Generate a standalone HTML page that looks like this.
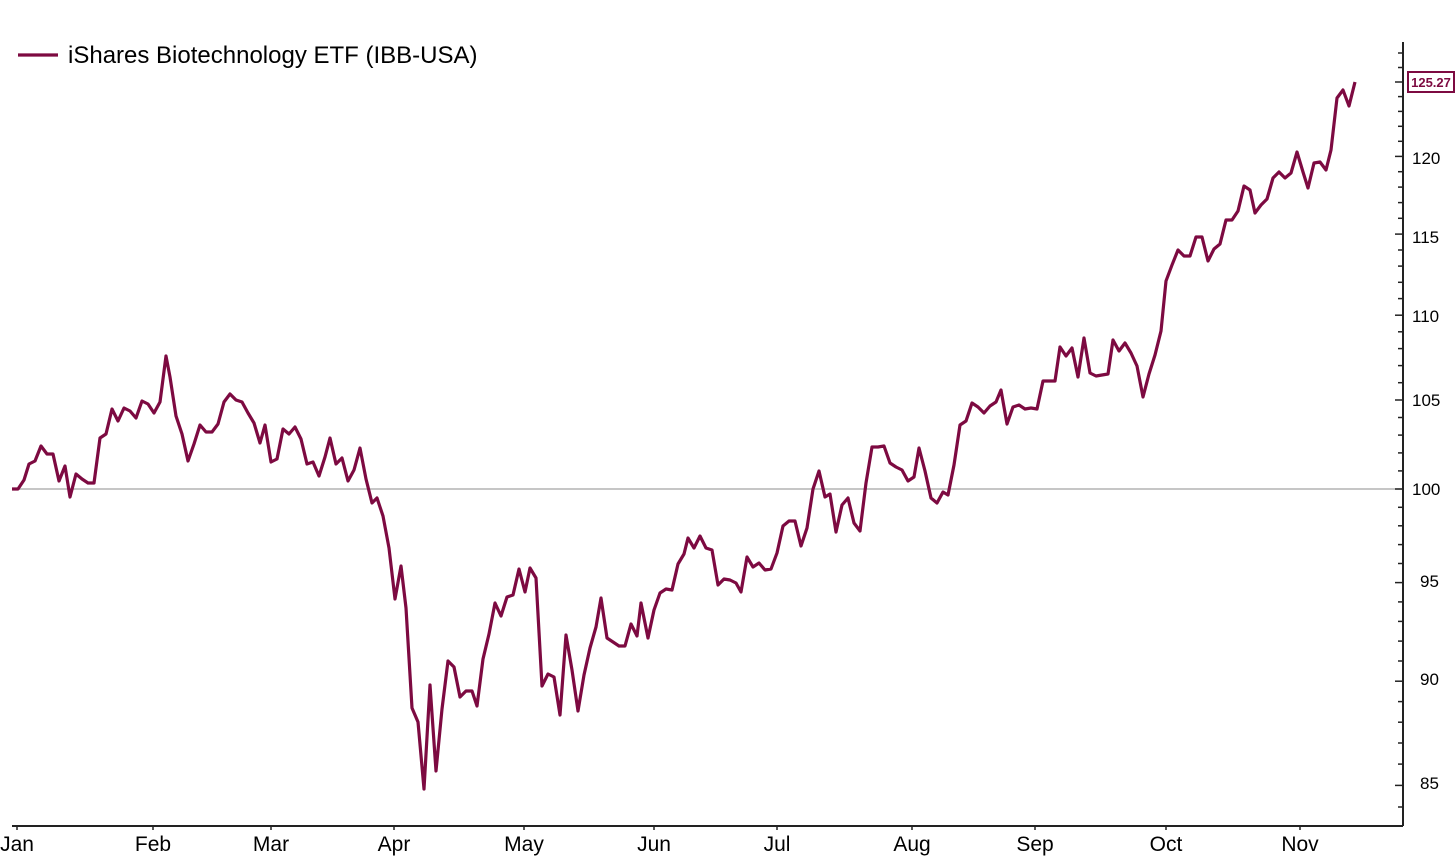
<!DOCTYPE html>
<html><head><meta charset="utf-8"><style>
html,body{margin:0;padding:0;background:#fff;}
svg{display:block;font-family:"Liberation Sans",Arial,sans-serif;}
</style></head><body>
<svg id="c" width="1456" height="856" viewBox="0 0 1456 856" xmlns="http://www.w3.org/2000/svg">
<line x1="12" y1="489" x2="1403" y2="489" stroke="#b4b4b4" stroke-width="1.5"/>
<line x1="12" y1="826" x2="1403" y2="826" stroke="#222" stroke-width="2"/>
<line x1="1403" y1="42" x2="1403" y2="826" stroke="#222" stroke-width="2"/>
<g id="ticks"></g>
<g font-size="21" fill="#000" text-anchor="middle">
<text x="17" y="851">Jan</text><text x="153" y="851">Feb</text><text x="271" y="851">Mar</text>
<text x="394" y="851">Apr</text><text x="524" y="851">May</text><text x="654" y="851">Jun</text>
<text x="777" y="851">Jul</text><text x="912" y="851">Aug</text><text x="1035" y="851">Sep</text>
<text x="1166" y="851">Oct</text><text x="1300" y="851">Nov</text>
</g>
<g font-size="17" fill="#000">
<text x="1412" y="164">120</text><text x="1412" y="243">115</text><text x="1412" y="322">110</text>
<text x="1412" y="406">105</text><text x="1412" y="495">100</text><text x="1420" y="587">95</text>
<text x="1420" y="685">90</text><text x="1420" y="789">85</text>
</g>
<polyline fill="none" stroke="#7d0a41" stroke-width="3.2" stroke-linejoin="round" points="12,489 18,489 24,480 29,464 35,461 41,446 47,454 53,454 59,481 65,466 70,497 76,474 82,479 88,483 94,483 100,438 106,434 112,409 118,421 124,408 130,411 136,418 142,401 148,404 154,413 160,402 166,356 170,377 176,416 182,434 188,461 194,444 200,425 206,432 212,432 218,424 224,402 230,394 236,400 242,402 248,413 254,423 260,443 265,425 271,462 277,459 283,429 289,434 295,427 301,439 307,464 313,462 319,476 325,457 330,438 336,464 342,458 348,481 354,470 360,448 366,479 372,503 377,498 383,516 389,548 395,599 401,566 406,608 412,708 418,722 424,789 430,685 436,771 442,709 448,661 454,667 460,697 466,691 472,691 477,706 483,659 489,634 495,603 501,616 507,597 513,595 519,569 525,592 530,568 536,578 542,686 548,674 554,677 560,715 566,635 572,670 578,711 584,675 590,648 596,627 601,598 607,638 613,642 619,646 625,646 631,624 637,636 641,603 648,638 654,610 660,593 666,589 672,590 678,564 684,554 688,538 694,548 700,536 706,548 712,550 718,585 724,579 730,580 736,583 741,592 747,557 753,567 759,563 765,570 771,569 777,553 783,526 789,521 795,521 801,546 807,528 813,489 819,471 825,497 830,494 836,532 842,505 848,498 854,523 860,531 866,483 872,447 878,447 884,446 890,463 896,467 902,470 908,481 914,477 919,448 925,471 931,498 937,503 943,492 948,495 954,465 960,425 966,421 972,403 978,407 984,413 990,406 996,402 1001,390 1007,424 1013,407 1019,405 1025,409 1031,408 1037,409 1043,381 1049,381 1055,381 1060,347 1066,356 1072,348 1078,377 1084,338 1090,373 1096,376 1102,375 1108,374 1113,340 1119,351 1125,343 1131,353 1137,366 1143,397 1149,374 1155,355 1161,331 1166,281 1172,265 1178,250 1184,256 1190,256 1196,237 1202,237 1208,261 1214,249 1220,244 1226,220 1232,220 1238,211 1244,186 1250,190 1255,213 1261,205 1267,199 1273,178 1279,172 1285,178 1291,173 1297,152 1303,172 1308,188 1314,163 1320,162 1326,170 1331,150 1337,98 1343,90 1349,106 1355,82"/>
<line x1="18" y1="55" x2="58" y2="55" stroke="#7d0a41" stroke-width="3.2"/>
<text x="68" y="63" font-size="24" fill="#000">iShares Biotechnology ETF (IBB-USA)</text>
<rect x="1408" y="72" width="46" height="20" fill="#fff" stroke="#7d0a41" stroke-width="2"/>
<text x="1431" y="87" font-size="13" font-weight="bold" fill="#7d0a41" text-anchor="middle">125.27</text>
</svg>
<script>
var g=document.getElementById('ticks'),s='';
for(var v=84;v<=128;v++){var y=489-1824*Math.log(v/100);if(y<44||y>824)continue;var L=(v%5==0)?8:5;
s+='<line x1="'+(1403-L)+'" y1="'+y.toFixed(1)+'" x2="1403" y2="'+y.toFixed(1)+'" stroke="#222" stroke-width="1.5"/>';}
[17,153,271,394,524,654,777,912,1035,1166,1300].forEach(function(x){s+='<line x1="'+x+'" y1="826" x2="'+x+'" y2="830" stroke="#222" stroke-width="1.5"/>';});
g.innerHTML=s;
</script>
</body></html>
